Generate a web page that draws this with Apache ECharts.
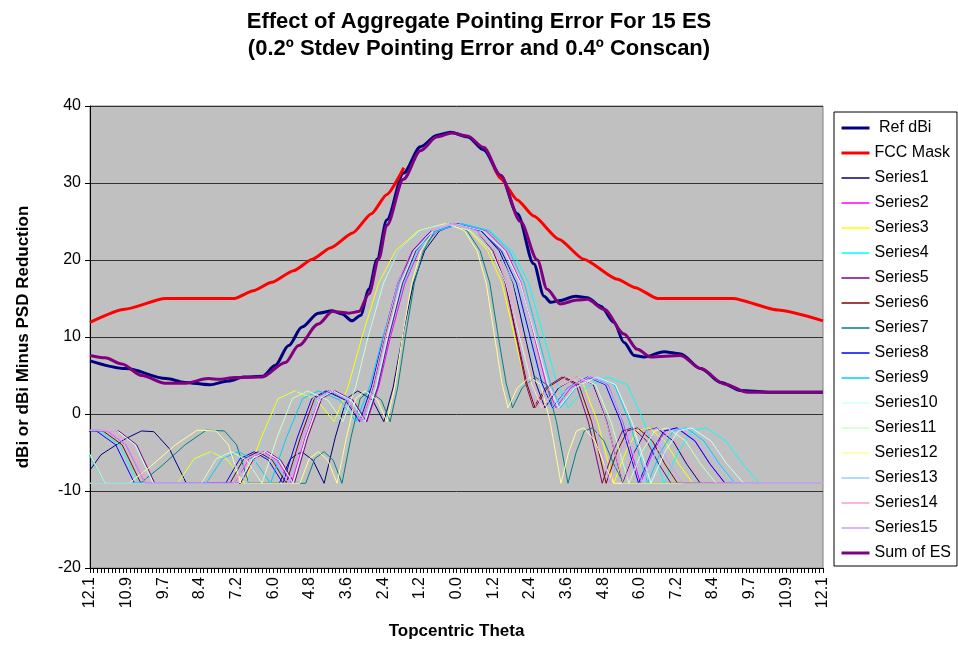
<!DOCTYPE html>
<html>
<head>
<meta charset="utf-8">
<title>Effect of Aggregate Pointing Error</title>
<script src="https://cdn.jsdelivr.net/npm/echarts@6/dist/echarts.min.js"></script>
<style>
  html, body { margin: 0; padding: 0; background: #fff; }
  #chart { width: 958px; height: 645px; }
</style>
</head>
<body>
<div id="chart"></div>
<script>
// x tick labels (|theta|, as printed on the axis)
var thetaLabels = ['12.1','10.9','9.7','8.4','7.2','6.0','4.8','3.6','2.4','1.2','0.0',
                   '1.2','2.4','3.6','4.8','6.0','7.2','8.4','9.7','10.9','12.1']

// [theta, dB] (left half = negative theta)
var refDbi = [[-12.1,6.9],[-10.92,5.9],[-9.58,4.6],[-8.97,4.1],[-8.15,3.8],[-7.53,4.3],[-7.02,4.8],[-6.4,4.9],
  [-5.99,6.3],[-5.54,8.9],[-5.1,11.3],[-4.56,13.1],[-4.1,13.4],[-3.78,13.0],[-3.45,12.1],[-3.17,12.8],[-2.89,16.2],
  [-2.62,20.1],[-2.3,25.2],[-1.75,31.3],[-1.19,34.7],[-0.64,36.2],[-0.2,36.6],[0.36,36.0],[0.9,34.3],[1.45,31.0],
  [2.01,26.0],[2.55,19.5],[2.89,15.3],[3.11,14.5],[3.38,14.7],[3.94,15.3],[4.32,15.1],[4.76,14.0],[5.2,11.9],
  [5.53,9.3],[5.87,7.6],[6.19,7.4],[6.85,8.1],[7.4,7.8],[8.06,5.9],[8.73,4.1],[9.38,3.05],[10.27,2.84],[12.1,2.84]]

var fccMask = [[-12.1,11.9],[-10.95,13.6],[-9.62,15.0],[-7.33,15.0],[-6.71,16.0],[-6.1,17.1],[-5.38,18.6],[-4.76,20.1],
  [-4.15,21.6],[-3.43,23.5],[-2.81,26.0],[-2.3,28.5],[-1.74,32.0],[0,'-'],
  [1.24,32.0],[1.45,30.6],[2.01,27.8],[2.55,25.7],[3.38,22.7],[4.2,20.1],[5.31,17.5],[5.91,16.4],[6.64,15.0],
  [9.12,15.0],[10.61,13.5],[12.1,12.1]]

var sumOfEs = [[-12.1,7.6],[-11.6,7.3],[-11.05,6.5],[-10.39,5.0],[-9.62,4.0],[-8.96,4.0],[-8.19,4.6],
  [-7.86,4.5],[-7.31,4.75],[-6.42,4.8],[-5.65,6.7],[-5.21,8.9],[-4.56,11.7],[-4.1,13.3],[-3.55,13.1],[-3.23,13.3],
  [-2.89,15.6],[-2.57,20.1],[-2.3,24.5],[-1.75,30.5],[-1.19,34.2],[-0.64,36.0],[-0.15,36.5],[0.36,36.1],[0.9,34.6],
  [1.45,31.0],[2.11,25.0],[2.67,20.0],[2.99,16.2],[3.43,14.3],[3.99,14.8],[4.32,14.9],[4.87,13.6],[5.53,10.4],
  [5.97,8.4],[6.41,7.4],[7.4,7.6],[8.06,5.9],[8.84,3.9],[9.61,2.84],[12.1,2.84]]

var series1 = [[-12.1,-7.3],[-11.74,-5.3],[-10.92,-3.2],[-10.4,-2.2],[-9.99,-2.3],[-9.48,-4.5],[-8.92,-9.0],[-5.85,-9.0],[-5.48,-5.8],[-5.11,-4.9],[-4.74,-6.0],[-4.37,-9.0],[-4.0,-3.0],[-3.63,2.0],[-3.26,3.0],[-2.77,1.8],[-2.4,-1.0],[-2.09,3.5],[-1.79,10.0],[-1.42,17.0],[-1.05,21.2],[-0.56,23.8],[0.06,24.7],[0.82,23.8],[1.41,21.2],[1.87,17.0],[2.24,10.5],[2.62,4.0],[2.92,0.8],[3.37,3.4],[3.98,4.8],[4.51,3.8],[4.96,-1.0],[5.49,-9.0],[5.87,-5.0],[6.25,-2.2],[6.61,-1.8],[7.15,-3.5],[7.6,-6.5],[8.05,-9.0],[12.1,-9.0]]
var series2 = [[-13.56,-4.0],[-12.47,-2.1],[-11.53,-2.2],[-10.91,-4.0],[-10.28,-9.0],[-7.33,-9.0],[-6.85,-5.8],[-6.38,-4.9],[-5.92,-6.0],[-5.45,-9.0],[-4.99,-3.0],[-4.52,2.0],[-4.04,3.0],[-3.43,1.8],[-2.96,-1.0],[-2.57,3.5],[-2.18,10.0],[-1.7,17.0],[-1.24,21.2],[-0.62,23.8],[0.16,24.7],[0.98,23.8],[1.64,21.2],[2.13,17.0],[2.54,10.5],[2.95,4.0],[3.28,0.8],[3.77,3.4],[4.43,4.8],[5.0,3.8],[5.5,-1.0],[6.07,-9.0],[6.48,-5.0],[6.89,-2.2],[7.3,-1.8],[7.88,-3.5],[8.37,-6.5],[8.86,-9.0],[12.1,-9.0]]
var series3 = [[-13.46,-4.0],[-12.72,-9.0],[-9.21,-9.0],[-8.66,-5.8],[-8.11,-4.9],[-7.55,-6.0],[-7.0,-9.0],[-6.44,-3.0],[-5.89,2.0],[-5.34,3.0],[-4.6,1.8],[-4.04,-1.0],[-3.58,3.5],[-3.12,10.0],[-2.57,17.0],[-2.01,21.2],[-1.27,23.8],[-0.35,24.7],[0.42,23.8],[1.03,21.2],[1.5,17.0],[1.89,10.5],[2.27,4.0],[2.57,0.8],[3.03,3.4],[3.65,4.8],[4.19,3.8],[4.66,-1.0],[5.19,-9.0],[5.58,-5.0],[5.96,-2.2],[6.35,-1.8],[6.88,-3.5],[7.34,-6.5],[7.8,-9.0],[12.1,-9.0]]
var series4 = [[-13.83,-4.0],[-12.72,-2.1],[-11.77,-2.2],[-11.13,-4.0],[-10.5,-9.0],[-7.47,-9.0],[-7.0,-5.8],[-6.52,-4.9],[-6.04,-6.0],[-5.56,-9.0],[-5.09,-3.0],[-4.61,2.0],[-4.14,3.0],[-3.5,1.8],[-3.02,-1.0],[-2.62,3.5],[-2.23,10.0],[-1.75,17.0],[-1.27,21.2],[-0.64,23.8],[0.16,24.7],[1.1,23.8],[1.83,21.2],[2.39,17.0],[2.85,10.5],[3.32,4.0],[3.69,0.8],[4.25,3.4],[4.99,4.8],[5.64,3.8],[6.19,-1.0],[6.85,-9.0],[7.31,-5.0],[7.77,-2.2],[8.24,-1.8],[8.89,-3.5],[9.45,-6.5],[10.0,-9.0],[12.1,-9.0]]
var series5 = [[-14.27,-6.8],[-13.08,-4.0],[-12.04,-2.1],[-11.15,-2.2],[-10.56,-4.0],[-9.96,-9.0],[-7.13,-9.0],[-6.69,-5.8],[-6.24,-4.9],[-5.8,-6.0],[-5.35,-9.0],[-4.91,-3.0],[-4.45,2.0],[-4.01,3.0],[-3.42,1.8],[-2.97,-1.0],[-2.6,3.5],[-2.23,10.0],[-1.78,17.0],[-1.34,21.2],[-0.74,23.8],[0.01,24.7],[0.68,23.8],[1.21,21.2],[1.61,17.0],[1.95,10.5],[2.28,4.0],[2.54,0.8],[2.94,3.4],[3.48,4.8],[3.95,3.8],[4.35,-1.0],[4.81,-9.0],[5.15,-5.0],[5.48,-2.2],[5.81,-1.8],[6.28,-3.5],[6.68,-6.5],[7.08,-9.0],[12.1,-9.0]]
var series6 = [[-13.68,-4.0],[-12.59,-2.1],[-11.67,-2.2],[-11.04,-4.0],[-10.42,-9.0],[-7.48,-9.0],[-7.02,-5.8],[-6.55,-4.9],[-6.08,-6.0],[-5.62,-9.0],[-5.15,-3.0],[-4.69,2.0],[-4.23,3.0],[-3.6,1.8],[-3.14,-1.0],[-2.75,3.5],[-2.37,10.0],[-1.9,17.0],[-1.44,21.2],[-0.82,23.8],[-0.04,24.7],[0.65,23.8],[1.21,21.2],[1.62,17.0],[1.97,10.5],[2.32,4.0],[2.59,0.8],[3.0,3.4],[3.56,4.8],[4.04,3.8],[4.46,-1.0],[4.94,-9.0],[5.29,-5.0],[5.64,-2.2],[5.98,-1.8],[6.47,-3.5],[6.88,-6.5],[7.3,-9.0],[12.1,-9.0]]
var series7 = [[-12.1,-9.0],[-10.44,-9.0],[-9.75,-6.8],[-8.96,-4.0],[-8.26,-2.1],[-7.66,-2.2],[-7.26,-4.0],[-6.86,-9.0],[-4.98,-9.0],[-4.68,-5.8],[-4.37,-4.9],[-4.07,-6.0],[-3.78,-9.0],[-3.48,-3.0],[-3.18,2.0],[-2.88,3.0],[-2.48,1.8],[-2.19,-1.0],[-1.94,3.5],[-1.69,10.0],[-1.39,17.0],[-1.09,21.2],[-0.7,23.8],[-0.2,24.7],[0.35,23.8],[0.78,21.2],[1.1,17.0],[1.36,10.5],[1.64,4.0],[1.85,0.8],[2.17,3.4],[2.6,4.8],[2.98,3.8],[3.3,-1.0],[3.68,-9.0],[3.95,-5.0],[4.22,-2.2],[4.49,-1.8],[4.87,-3.5],[5.19,-6.5],[5.52,-9.0],[12.1,-9.0]]
var series8 = [[-13.94,-4.0],[-12.83,-2.1],[-11.89,-2.2],[-11.25,-4.0],[-10.63,-9.0],[-7.62,-9.0],[-7.15,-5.8],[-6.68,-4.9],[-6.21,-6.0],[-5.73,-9.0],[-5.25,-3.0],[-4.78,2.0],[-4.31,3.0],[-3.67,1.8],[-3.2,-1.0],[-2.81,3.5],[-2.41,10.0],[-1.94,17.0],[-1.47,21.2],[-0.83,23.8],[-0.04,24.7],[0.8,23.8],[1.48,21.2],[1.98,17.0],[2.4,10.5],[2.82,4.0],[3.16,0.8],[3.66,3.4],[4.33,4.8],[4.92,3.8],[5.42,-1.0],[6.01,-9.0],[6.43,-5.0],[6.85,-2.2],[7.27,-1.8],[7.87,-3.5],[8.37,-6.5],[8.87,-9.0],[12.1,-9.0]]
var series9 = [[-14.08,-2.1],[-13.02,-2.2],[-12.31,-4.0],[-11.6,-9.0],[-8.26,-9.0],[-7.73,-5.8],[-7.19,-4.9],[-6.67,-6.0],[-6.14,-9.0],[-5.61,-3.0],[-5.08,2.0],[-4.55,3.0],[-3.85,1.8],[-3.32,-1.0],[-2.87,3.5],[-2.43,10.0],[-1.9,17.0],[-1.38,21.2],[-0.67,23.8],[0.21,24.7],[1.07,23.8],[1.74,21.2],[2.24,17.0],[2.67,10.5],[3.1,4.0],[3.43,0.8],[3.94,3.4],[4.61,4.8],[5.21,3.8],[5.71,-1.0],[6.31,-9.0],[6.73,-5.0],[7.16,-2.2],[7.58,-1.8],[8.17,-3.5],[8.68,-6.5],[9.19,-9.0],[12.1,-9.0]]
var series10 = [[-14.32,-6.8],[-13.13,-4.0],[-12.1,-2.1],[-11.2,-2.2],[-10.61,-4.0],[-10.01,-9.0],[-7.18,-9.0],[-6.74,-5.8],[-6.29,-4.9],[-5.85,-6.0],[-5.4,-9.0],[-4.96,-3.0],[-4.51,2.0],[-4.06,3.0],[-3.47,1.8],[-3.02,-1.0],[-2.65,3.5],[-2.28,10.0],[-1.83,17.0],[-1.39,21.2],[-0.79,23.8],[-0.04,24.7],[0.86,23.8],[1.58,21.2],[2.11,17.0],[2.56,10.5],[3.01,4.0],[3.37,0.8],[3.91,3.4],[4.62,4.8],[5.25,3.8],[5.79,-1.0],[6.42,-9.0],[6.87,-5.0],[7.32,-2.2],[7.76,-1.8],[8.4,-3.5],[8.93,-6.5],[9.48,-9.0],[12.1,-9.0]]
var series11 = [[-13.94,-2.1],[-12.95,-2.2],[-12.27,-4.0],[-11.6,-9.0],[-8.42,-9.0],[-7.93,-5.8],[-7.43,-4.9],[-6.93,-6.0],[-6.42,-9.0],[-5.92,-3.0],[-5.42,2.0],[-4.92,3.0],[-4.25,1.8],[-3.75,-1.0],[-3.33,3.5],[-2.92,10.0],[-2.41,17.0],[-1.91,21.2],[-1.24,23.8],[-0.4,24.7],[0.45,23.8],[1.13,21.2],[1.63,17.0],[2.05,10.5],[2.48,4.0],[2.82,0.8],[3.32,3.4],[4.0,4.8],[4.59,3.8],[5.1,-1.0],[5.69,-9.0],[6.11,-5.0],[6.54,-2.2],[6.96,-1.8],[7.56,-3.5],[8.06,-6.5],[8.57,-9.0],[12.1,-9.0]]
var series12 = [[-12.1,-9.0],[-10.81,-9.0],[-10.1,-6.8],[-9.28,-4.0],[-8.56,-2.1],[-7.94,-2.2],[-7.53,-4.0],[-7.12,-9.0],[-5.17,-9.0],[-4.86,-5.8],[-4.56,-4.9],[-4.25,-6.0],[-3.94,-9.0],[-3.63,-3.0],[-3.33,2.0],[-3.02,3.0],[-2.61,1.8],[-2.3,-1.0],[-2.04,3.5],[-1.79,10.0],[-1.48,17.0],[-1.17,21.2],[-0.76,23.8],[-0.25,24.7],[0.26,23.8],[0.68,21.2],[0.98,17.0],[1.24,10.5],[1.5,4.0],[1.7,0.8],[2.01,3.4],[2.42,4.8],[2.78,3.8],[3.09,-1.0],[3.45,-9.0],[3.7,-5.0],[3.96,-2.2],[4.21,-1.8],[4.57,-3.5],[4.88,-6.5],[5.19,-9.0],[12.1,-9.0]]
var series13 = [[-13.36,-4.0],[-12.62,-9.0],[-9.11,-9.0],[-8.56,-5.8],[-8.0,-4.9],[-7.45,-6.0],[-6.9,-9.0],[-6.34,-3.0],[-5.79,2.0],[-5.23,3.0],[-4.49,1.8],[-3.94,-1.0],[-3.48,3.5],[-3.02,10.0],[-2.46,17.0],[-1.91,21.2],[-1.17,23.8],[-0.25,24.7],[0.64,23.8],[1.35,21.2],[1.89,17.0],[2.33,10.5],[2.77,4.0],[3.13,0.8],[3.66,3.4],[4.37,4.8],[4.98,3.8],[5.52,-1.0],[6.14,-9.0],[6.58,-5.0],[7.02,-2.2],[7.48,-1.8],[8.09,-3.5],[8.63,-6.5],[9.16,-9.0],[12.1,-9.0]]
var series14 = [[-14.53,-6.8],[-13.33,-4.0],[-12.28,-2.1],[-11.38,-2.2],[-10.78,-4.0],[-10.18,-9.0],[-7.34,-9.0],[-6.88,-5.8],[-6.43,-4.9],[-5.98,-6.0],[-5.54,-9.0],[-5.09,-3.0],[-4.64,2.0],[-4.19,3.0],[-3.59,1.8],[-3.14,-1.0],[-2.77,3.5],[-2.39,10.0],[-1.94,17.0],[-1.49,21.2],[-0.89,23.8],[-0.15,24.7],[0.64,23.8],[1.27,21.2],[1.74,17.0],[2.13,10.5],[2.52,4.0],[2.84,0.8],[3.31,3.4],[3.94,4.8],[4.48,3.8],[4.95,-1.0],[5.51,-9.0],[5.9,-5.0],[6.29,-2.2],[6.69,-1.8],[7.23,-3.5],[7.7,-6.5],[8.17,-9.0],[12.1,-9.0]]
var series15 = [[-13.49,-4.0],[-12.42,-2.1],[-11.51,-2.2],[-10.9,-4.0],[-10.28,-9.0],[-7.38,-9.0],[-6.93,-5.8],[-6.46,-4.9],[-6.0,-6.0],[-5.54,-9.0],[-5.09,-3.0],[-4.63,2.0],[-4.17,3.0],[-3.56,1.8],[-3.1,-1.0],[-2.72,3.5],[-2.34,10.0],[-1.88,17.0],[-1.42,21.2],[-0.81,23.8],[-0.04,24.7],[0.67,23.8],[1.23,21.2],[1.66,17.0],[2.01,10.5],[2.37,4.0],[2.64,0.8],[3.08,3.4],[3.64,4.8],[4.13,3.8],[4.56,-1.0],[5.06,-9.0],[5.4,-5.0],[5.76,-2.2],[6.11,-1.8],[6.61,-3.5],[7.04,-6.5],[7.46,-9.0],[12.1,-9.0]]

var thinData = [series1, series2, series3, series4, series5, series6, series7, series8,
                series9, series10, series11, series12, series13, series14, series15]
// excel default line palette
var thinColors = ['#000080','#FF00FF','#FFFF00','#00FFFF','#800080','#800000','#008080','#0000FF',
                  '#00CCFF','#CCFFFF','#CCFFCC','#FFFF99','#99CCFF','#FF99CC','#CC99FF']

var font = "'Liberation Sans', Arial, sans-serif"

function lineSeries(name, data, color, width, smooth) {
  return {
    name: name,
    type: 'line',
    data: data,
    symbol: 'none',
    smooth: smooth || false,
    smoothMonotone: 'x',
    connectNulls: false,
    clip: true,
    lineStyle: { color: color, width: width },
    itemStyle: { color: color },
    emphasis: { disabled: true }
  }
}

var seriesList = []
seriesList.push(lineSeries(' Ref dBi', refDbi, '#000080', 3, 0.3))
seriesList.push(lineSeries('FCC Mask', fccMask, '#FF0000', 3, 0.2))
for (var i = 0; i < thinData.length; i++) {
  seriesList.push(lineSeries('Series' + (i + 1), thinData[i], thinColors[i], 1))
}
seriesList.push(lineSeries('Sum of ES', sumOfEs, '#800080', 3, 0.3))

// legend samples keep the series line width
var legendData = seriesList.map(function (s) {
  return { name: s.name, lineStyle: { width: s.lineStyle.width === 3 ? 3 : 1.5 } }
})

var myChart = echarts.init(document.getElementById('chart'), null, { renderer: 'canvas' })
var option = {
  animation: false,
  backgroundColor: '#fff',
  textStyle: { fontFamily: font },
  title: {
    text: 'Effect of Aggregate Pointing Error For 15 ES\n(0.2º Stdev Pointing Error and 0.4º Conscan)',
    left: 'center',
    top: 3,
    textStyle: { fontFamily: font, fontSize: 22, fontWeight: 'bold', color: '#000', lineHeight: 27 }
  },
  legend: {
    orient: 'vertical',
    left: 834,
    top: 112,
    padding: [8, 6, 5, 6],
    itemWidth: 28,
    itemHeight: 14,
    itemGap: 9,
    borderColor: '#000',
    borderWidth: 1,
    backgroundColor: '#fff',
    borderRadius: 0,
    selectedMode: false,
    // hide the marker, keep only the line sample
    itemStyle: { opacity: 0 },
    textStyle: { fontFamily: font, fontSize: 16, color: '#000', lineHeight: 16 },
    data: legendData
  },
  grid: {
    left: 90, right: 135, top: 106, bottom: 77,
    show: true,
    backgroundColor: '#C0C0C0',
    borderColor: '#808080',
    borderWidth: 1
  },
  xAxis: {
    type: 'value',
    min: -12.1,
    max: 12.1,
    interval: 1.21,
    name: 'Topcentric Theta',
    nameLocation: 'middle',
    nameGap: 55,
    nameTextStyle: { fontFamily: font, fontSize: 17, fontWeight: 'bold', color: '#000' },
    axisLine: { onZero: false, lineStyle: { color: '#000', width: 1 } },
    axisTick: { show: true, length: 5, lineStyle: { color: '#000' } },
    minorTick: { show: true, splitNumber: 10, length: 5, lineStyle: { color: '#000' } },
    splitLine: { show: false },
    axisLabel: {
      rotate: 90,
      margin: 9,
      fontSize: 16,
      color: '#000',
      formatter: function (v) {
        var idx = Math.round((v + 12.1) / 1.21)
        return thetaLabels[idx] !== undefined ? thetaLabels[idx] : ''
      }
    }
  },
  yAxis: {
    type: 'value',
    min: -20,
    max: 40,
    interval: 10,
    name: 'dBi or dBi Minus PSD Reduction',
    nameLocation: 'middle',
    nameGap: 58,
    nameRotate: 90,
    nameTextStyle: { fontFamily: font, fontSize: 17, fontWeight: 'bold', color: '#000' },
    axisLine: { show: true, onZero: false, lineStyle: { color: '#000', width: 1 } },
    axisTick: { show: true, length: 5, lineStyle: { color: '#000' } },
    splitLine: { show: true, lineStyle: { color: '#333', width: 1 } },
    axisLabel: { fontSize: 16, color: '#000', margin: 9 }
  },
  series: seriesList
}
myChart.setOption(option)
</script>
</body>
</html>
